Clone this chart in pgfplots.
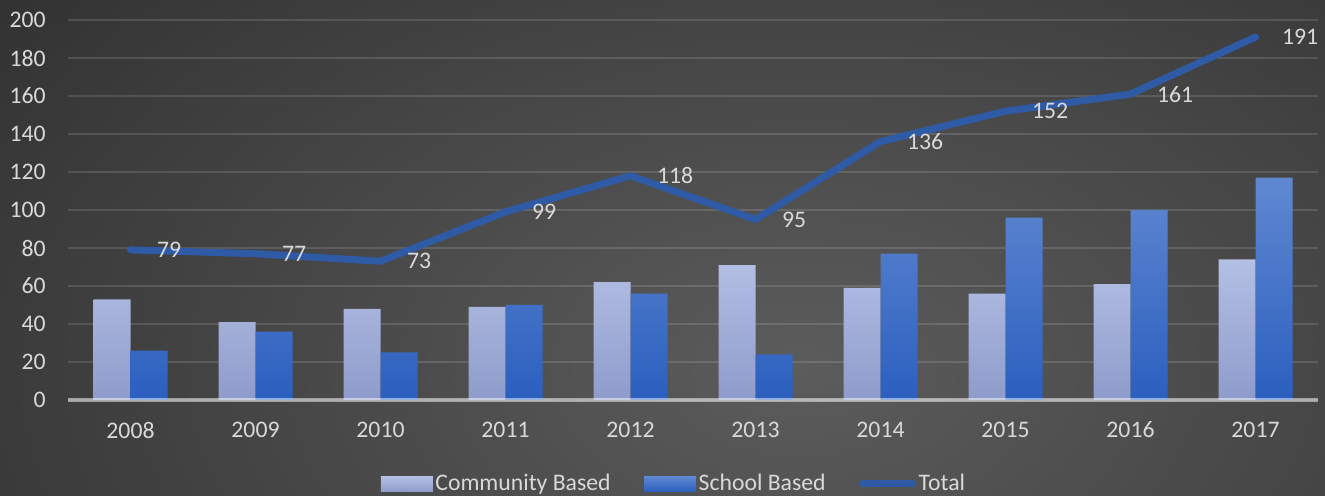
\documentclass[border=0pt]{standalone}
\usepackage{fontspec}
\setmainfont{Carlito}
\usepackage{pgfplots}
\pgfplotsset{compat=1.18}

\definecolor{bgout}{HTML}{262626}
\definecolor{bgin}{HTML}{5C5C5C}
\definecolor{txt}{HTML}{D9D9D9}
\definecolor{commtop}{HTML}{B4BFE4}
\definecolor{commbot}{HTML}{8E9CCB}
\definecolor{schtop}{HTML}{6088D1}
\definecolor{schbot}{HTML}{2B5FBF}
\definecolor{totline}{HTML}{2F5AA6}

\begin{document}
\begin{tikzpicture}
\useasboundingbox (0,0) rectangle (26.5cm,9.9cm);
\begin{scope}
  \clip (0,0) rectangle (26.5cm,9.9cm);
  \fill[bgout] (0,0) rectangle (26.5cm,9.9cm);
  \shade[inner color=bgin, outer color=bgout] (16cm,2.5cm) ellipse (26cm and 16cm);
\end{scope}

\begin{axis}[
  at={(1.36cm,1.9cm)}, anchor=south west,
  scale only axis, width=25cm, height=7.6cm,
  xmin=-0.5, xmax=9.5, ymin=0, ymax=200,
  xtick={0,...,9},
  xticklabels={2008,2009,2010,2011,2012,2013,2014,2015,2016,2017},
  ytick={0,20,...,200},
  major tick length=0pt,
  axis line style={draw=none},
  ymajorgrids, grid style={white, opacity=0.13, line width=1.1pt},
  font=\fontsize{13.5}{16}\selectfont,
  tick label style={text=txt},
  /pgf/number format/assume math mode=true,
  yticklabel style={anchor=east, inner sep=0pt, xshift=-0.44cm},
  xticklabel style={anchor=center, inner sep=0pt, yshift=-0.6cm},
  clip=false,
  legend columns=3,
  legend style={at={(0.485,-0.221)}, anchor=center, draw=none, fill=none,
    text=txt, font=\fontsize{13.5}{16}\selectfont,
    /tikz/every even column/.append style={column sep=0.62cm},
    inner sep=0pt, nodes={inner sep=0.05cm}},
]

\addplot[ybar, bar width=0.296, bar shift=-0.148, draw=none,
  top color=commtop, bottom color=commbot,
  legend image code/.code={\path[top color=commtop, bottom color=commbot] (0cm,-0.15cm) rectangle (1.04cm,0.15cm);}]
  coordinates {(0,53) (1,41) (2,48) (3,49) (4,62) (5,71) (6,59) (7,56) (8,61) (9,74)};
\addlegendentry{Community Based}

\addplot[ybar, bar width=0.296, bar shift=0.148, draw=none,
  top color=schtop, bottom color=schbot,
  legend image code/.code={\path[top color=schtop, bottom color=schbot] (0cm,-0.15cm) rectangle (1.04cm,0.15cm);}]
  coordinates {(0,26) (1,36) (2,25) (3,50) (4,56) (5,24) (6,77) (7,96) (8,100) (9,117)};
\addlegendentry{School Based}

\addplot[totline, line width=4pt, line cap=round, line join=round, mark=none,
  nodes near coords,
  every node near coord/.append style={anchor=west, inner sep=0pt, xshift=0.46cm, text=txt},
  legend image code/.code={\draw[totline, line width=4pt, line cap=round] (0.07cm,0cm) -- (1.07cm,0cm);}]
  coordinates {(0,79) (1,77) (2,73) (3,99) (4,118) (5,95) (6,136) (7,152) (8,161) (9,191)};
\addlegendentry{Total}

\draw[white, opacity=0.5, line width=2pt] (axis cs:-0.5,0) -- (axis cs:9.5,0);
\end{axis}
\end{tikzpicture}
\end{document}
